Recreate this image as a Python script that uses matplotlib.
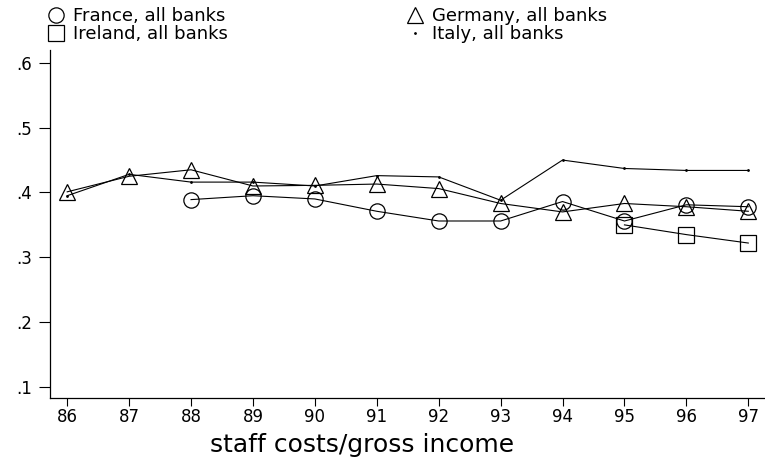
import matplotlib
matplotlib.use("Agg")
import matplotlib.pyplot as plt
from matplotlib.lines import Line2D

plt.rcParams['font.family'] = ['DejaVu Sans']

years = [86, 87, 88, 89, 90, 91, 92, 93, 94, 95, 96, 97]

france_years = [88, 89, 90, 91, 92, 93, 94, 95, 96, 97]
france = [0.389, 0.395, 0.390, 0.371, 0.356, 0.356, 0.386, 0.356, 0.381, 0.378]

germany = [0.401, 0.425, 0.435, 0.410, 0.411, 0.413, 0.406, 0.383, 0.370, 0.383, 0.378, 0.371]

ireland_years = [95, 96, 97]
ireland = [0.350, 0.335, 0.322]

italy = [0.395, 0.428, 0.416, 0.416, 0.410, 0.426, 0.424, 0.388, 0.450, 0.437, 0.434, 0.434]

yticks = [0.1, 0.2, 0.3, 0.4, 0.5, 0.6]
ytick_labels = ['.1', '.2', '.3', '.4', '.5', '.6']

fig = plt.figure(figsize=(7.65, 4.66), dpi=100)
ax = fig.add_axes([0.066, 0.146, 0.934, 0.747])

lw = 0.8
ms = 11
ax.plot(france_years, france, color='black', lw=lw, marker='o', ms=ms,
        mfc='none', mec='black', mew=0.9)
ax.plot(years, germany, color='black', lw=lw, marker='^', ms=ms + 1,
        mfc='none', mec='black', mew=0.9)
ax.plot(ireland_years, ireland, color='black', lw=lw, marker='s', ms=ms,
        mfc='none', mec='black', mew=0.9)
ax.plot(years, italy, color='black', lw=lw, marker='.', ms=2)

ax.set_xlim(85.73, 97.27)
ax.set_ylim(0.083, 0.62)
ax.set_xticks(years)
ax.set_xticklabels([str(y) for y in years])
ax.set_yticks(yticks)
ax.set_yticklabels(ytick_labels)
ax.tick_params(axis='both', labelsize=12, width=0.8, color='black')
ax.tick_params(axis='y', length=8, pad=5.5)
ax.tick_params(axis='x', length=6, pad=1.5)

for side in ['top', 'right']:
    ax.spines[side].set_visible(False)
for side in ['left', 'bottom']:
    ax.spines[side].set_linewidth(0.9)

fig.text(0.473, 0.045, 'staff costs/gross income', fontsize=18,
         ha='center', va='center')

handles = [
    Line2D([], [], ls='none', marker='o', ms=ms, mfc='none', mec='black', mew=0.9),
    Line2D([], [], ls='none', marker='s', ms=ms, mfc='none', mec='black', mew=0.9),
    Line2D([], [], ls='none', marker='^', ms=ms + 1, mfc='none', mec='black', mew=0.9),
    Line2D([], [], ls='none', marker='.', ms=2, color='black'),
]
labels = ['France, all banks', 'Ireland, all banks',
          'Germany, all banks', 'Italy, all banks']
fig.legend(handles, labels, ncol=2, loc='upper left',
           bbox_to_anchor=(0.063, 0.985), frameon=False, fontsize=13,
           handlelength=0.9, handletextpad=0.5, columnspacing=9.9,
           labelspacing=0.0, borderaxespad=0, borderpad=0)

fig.savefig('out.png', dpi=100)
